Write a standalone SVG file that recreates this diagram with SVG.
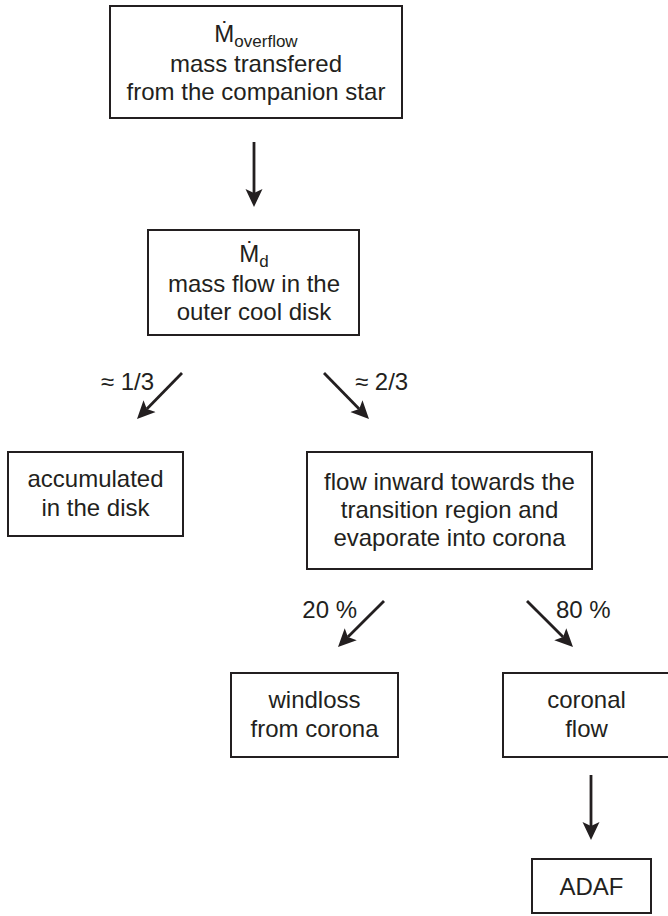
<svg xmlns="http://www.w3.org/2000/svg" width="668" height="916" viewBox="0 0 668 916">
  <style>
    .box { fill: #ffffff; stroke: #231f20; stroke-width: 2; }
    .t { font-family: "Liberation Sans", Arial, "DejaVu Sans", sans-serif; font-size: 24px; fill: #231f20; text-anchor: middle; }
    .lbl { font-family: "Liberation Sans", Arial, "DejaVu Sans", sans-serif; font-size: 24px; fill: #231f20; }
    .sub { font-size: 17px; }
    .conn line { stroke: #231f20; stroke-width: 2.8; marker-end: url(#ah); }
  </style>
  <defs>
    <marker id="ah" markerUnits="userSpaceOnUse" markerWidth="20" markerHeight="20" refX="4" refY="9" orient="auto">
      <path d="M0,0.5 L18,9 L0,17.5 L4,9 Z" fill="#231f20"/>
    </marker>
  </defs>
  <rect width="668" height="916" fill="#ffffff"/>

  <g id="overflow">
    <rect class="box" x="110" y="6" width="292" height="112"/>
    <text class="t" x="256" y="42">Ṁ<tspan class="sub" dy="5">overflow</tspan></text>
    <text class="t" x="256" y="72">mass transfered</text>
    <text class="t" x="256" y="100">from the companion star</text>
  </g>

  <g id="md">
    <rect class="box" x="148" y="230" width="211" height="105"/>
    <text class="t" x="254" y="262">Ṁ<tspan class="sub" dy="5">d</tspan></text>
    <text class="t" x="254" y="292">mass flow in the</text>
    <text class="t" x="254" y="320">outer cool disk</text>
  </g>

  <g id="accumulated">
    <rect class="box" x="8" y="452" width="175" height="84"/>
    <text class="t" x="95.5" y="487">accumulated</text>
    <text class="t" x="95.5" y="516">in the disk</text>
  </g>

  <g id="inflow">
    <rect class="box" x="307" y="452" width="285" height="117"/>
    <text class="t" x="449.5" y="490">flow inward towards the</text>
    <text class="t" x="449.5" y="518">transition region and</text>
    <text class="t" x="449.5" y="546">evaporate into corona</text>
  </g>

  <g id="windloss">
    <rect class="box" x="231" y="673" width="167" height="84"/>
    <text class="t" x="314.5" y="708">windloss</text>
    <text class="t" x="314.5" y="737">from corona</text>
  </g>

  <g id="coronal">
    <rect class="box" x="503" y="673" width="167" height="84"/>
    <text class="t" x="586.5" y="708">coronal</text>
    <text class="t" x="586.5" y="737">flow</text>
  </g>

  <g id="adaf">
    <rect class="box" x="532" y="859" width="119" height="54"/>
    <text class="t" x="591.5" y="895">ADAF</text>
  </g>

  <g id="connectors" class="conn">
    <line x1="254" y1="142" x2="254" y2="193"/>
    <line x1="182" y1="373" x2="146.8" y2="409"/>
    <line x1="324" y1="373" x2="359.2" y2="409"/>
    <line x1="384" y1="601" x2="347.9" y2="637.1"/>
    <line x1="527" y1="601" x2="563.1" y2="637.1"/>
    <line x1="591" y1="775" x2="591" y2="826"/>
  </g>

  <g id="labels">
    <text class="lbl" x="154" y="390" text-anchor="end">≈ 1/3</text>
    <text class="lbl" x="355" y="390">≈ 2/3</text>
    <text class="lbl" x="357" y="618" text-anchor="end">20 %</text>
    <text class="lbl" x="556" y="618">80 %</text>
  </g>
</svg>
